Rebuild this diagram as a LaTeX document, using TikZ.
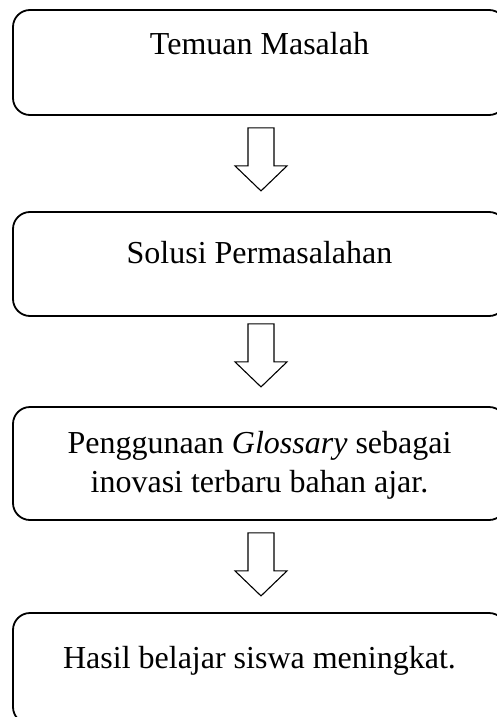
\documentclass[tikz,border=0pt]{standalone}
\usepackage{fontspec}
\setmainfont{Liberation Serif}
\usetikzlibrary{calc}
\tikzset{
  flowbox/.style={draw=black, line width=1.8pt, rounded corners=17pt, inner sep=0pt, minimum width=493pt},
  boxtext/.style={inner sep=0pt, font=\fontsize{32}{39}\selectfont, align=center},
  blockarrow/.style={draw=black, line width=1.1pt, fill=white, line join=miter},
}
\newcommand{\downarrowshape}[1]{%
  \draw[blockarrow] ($(#1)+(-13,0)$) -- ++(0,38) -- ++(-13,0) -- ++(26,25) -- ++(26,-25) -- ++(-13,0) -- ++(0,-38) -- cycle;}
\begin{document}
\begin{tikzpicture}[x=1pt,y=-1pt]
  \useasboundingbox (0,0) rectangle (496,717);
  \fill[white] (0,0) rectangle (496,717);
  % boxes
  \node[flowbox, minimum height=105pt] (b1) at (259.5,62.5) {};
  \node[boxtext, anchor=base] (t1) at (259.5,55) {Temuan Masalah};
  \node[flowbox, minimum height=104pt] (b2) at (259.5,264) {};
  \node[boxtext, anchor=base] (t2) at (259.5,263) {Solusi Permasalahan};
  \node[flowbox, minimum height=113pt] (b3) at (259.5,463.5) {};
  \node[boxtext, anchor=base] (t3) at (259.5,492) {Penggunaan \textit{Glossary} sebagai\\inovasi terbaru bahan ajar.};
  \node[flowbox, minimum height=111pt] (b4) at (259.5,668.5) {};
  \node[boxtext, anchor=base] (t4) at (259.5,668) {Hasil belajar siswa meningkat.};
  % arrows
  \coordinate (a1) at ($(b1.south)+(1.5,12)$);
  \coordinate (a2) at ($(b2.south)+(1.5,7)$);
  \coordinate (a3) at ($(b3.south)+(1.5,12)$);
  \downarrowshape{a1}
  \downarrowshape{a2}
  \downarrowshape{a3}
\end{tikzpicture}
\end{document}
